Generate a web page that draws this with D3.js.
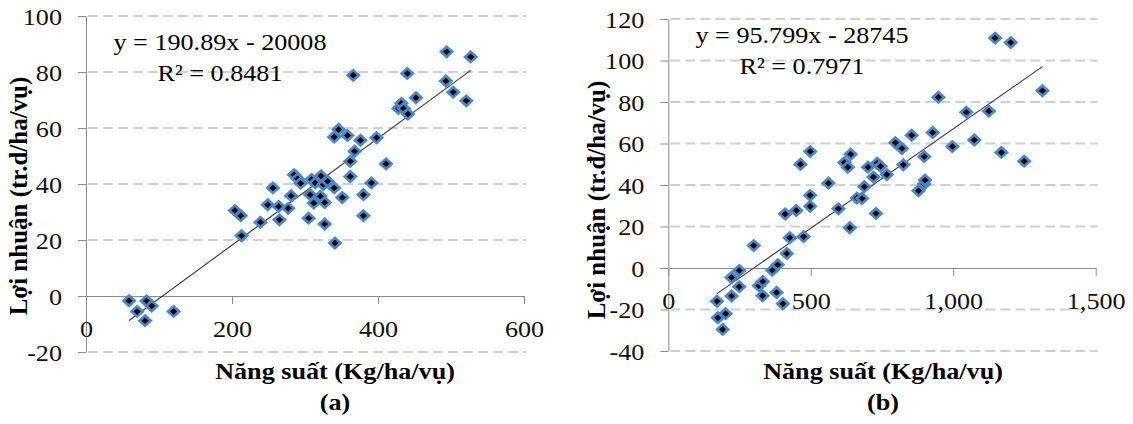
<!DOCTYPE html>
<html>
<head>
<meta charset="utf-8">
<script src="https://cdn.jsdelivr.net/npm/d3@7"></script>
<style>
  html, body { margin: 0; padding: 0; background: #fff; }
  svg { display: block; }
  text { font-family: "Liberation Serif", "Times New Roman", serif; }
</style>
</head>
<body>
<svg id="chart" width="1133" height="424"></svg>
<script>
// ---- data: (a) yield vs. profit ----
const yieldA = [59, 70, 81, 83, 90, 120, 204, 212, 213, 239, 249, 256, 264, 265, 277, 281, 285, 290, 294,
  305, 307, 309, 312, 314, 321, 322, 325, 327, 327, 331, 340, 341, 340, 346, 351, 358, 362, 362, 368, 376,
  366, 380, 380, 391, 398, 411, 428, 432, 435, 441, 440, 452, 494, 493, 503, 521, 527];
const profitA = [-1.7, -5.5, -8.8, -1.8, -3.6, -5.5, 30.5, 28.7, 21.5, 26.3, 32.6, 38.6, 32.0, 27.2, 31.3, 35.8, 43.3, 41.9, 40.3,
  27.8, 36.2, 41.6, 33.2, 40.4, 35.6, 42.9, 39.8, 33.4, 25.7, 41.0, 38.6, 18.9, 56.8, 59.5, 35.2, 57.3, 42.7, 48.1, 51.7, 55.6,
  78.8, 36.2, 28.7, 40.4, 56.5, 47.2, 67.0, 68.8, 67.0, 65.0, 79.5, 70.8, 87.2, 76.8, 72.8, 69.7, 85.4];
const trendA = { slope: 190.89, intercept: -20008, r2: "0.8481" };
const xTicksA = [0, 200, 400, 600];
const yTicksA = [-20, 0, 20, 40, 60, 80, 100];

// ---- data: (b) yield vs. profit ----
const yieldB = [171, 174, 191, 201, 222, 222, 249, 249, 300, 318, 332, 331, 365, 384, 380, 402, 416, 426, 410, 449,
  464, 475, 498, 498, 498, 562, 597, 618, 630, 640, 637, 662, 680, 688, 701, 720, 733, 729, 745, 767,
  797, 820, 825, 854, 878, 898, 901, 898, 928, 948, 997, 1046, 1074, 1125, 1147, 1169, 1202, 1249, 1313];
const profitB = [-16.0, -24.0, -29.6, -22.0, -4.6, -13.5, -1.2, -9.0, 10.8, -8.5, -6.5, -13.4, -1.1, 1.6, -11.8, -17.2, 7.0, 14.6, 26.0, 27.7,
  50.0, 15.1, 56.1, 35.0, 29.7, 40.9, 28.5, 50.8, 48.6, 54.8, 19.4, 33.7, 33.5, 39.2, 48.6, 43.8, 50.5, 26.3, 49.0, 45.0,
  60.4, 57.6, 49.7, 64.0, 37.2, 40.5, 42.3, 53.7, 65.3, 82.3, 58.5, 75.1, 61.7, 75.6, 110.8, 55.7, 108.7, 51.5, 85.4];
const trendB = { slope: 95.799, intercept: -28745, r2: "0.7971" };
const xTicksB = [0, 500, 1000, 1500];
const yTicksB = [-40, -20, 0, 20, 40, 60, 80, 100, 120];

const xTitle = "Năng suất (Kg/ha/vụ)";
const yTitleA = "Lợi nhuận (tr.d/ha/vụ)";
const yTitleB = "Lợi nhuận (tr.đ/ha/vụ)";

const svg = d3.select("#chart");
const STRETCH = 1.09;          // horizontal widening of the lettering
// thousands separator, plain hyphen for negatives
const fmt = d3.formatLocale({ decimal: ".", thousands: ",", grouping: [3], currency: ["", ""], minus: "-" }).format(",");

function stretchedText(g, x, y, str, opts) {
  return g.append("text")
    .attr("transform", `translate(${x},${y}) scale(${STRETCH},1)`)
    .attr("text-anchor", opts.anchor || "middle")
    .attr("font-size", opts.size)
    .attr("font-weight", opts.weight || "normal")
    .attr("fill", opts.fill || "#000")
    .text(str);
}

function panel(cfg) {
  const g = svg.append("g");
  const x = d3.scaleLinear().domain(cfg.xDomain).range(cfg.xRange);
  const y = d3.scaleLinear().domain(cfg.yDomain).range(cfg.yRange);
  const x0 = x(0), y0 = y(0);

  // dashed horizontal gridlines
  g.append("g").selectAll("line")
    .data(cfg.yTicks.filter(v => v !== 0))
    .join("line")
    .attr("x1", x0 + 2).attr("x2", cfg.xRange[1] + 2)
    .attr("y1", d => y(d)).attr("y2", d => y(d))
    .attr("stroke", "#d0d0d0").attr("stroke-width", 2)
    .attr("stroke-dasharray", "10,5");

  // vertical axis
  const yAxis = g.append("g")
    .attr("transform", `translate(${x0},0)`)
    .call(d3.axisLeft(y).tickValues(cfg.yTicks).tickSize(8).tickSizeOuter(0).tickPadding(16));
  yAxis.select(".domain").attr("stroke", "#8c8c8c");
  yAxis.selectAll(".tick line").attr("stroke", "#8c8c8c");
  yAxis.selectAll(".tick text").remove();
  yAxis.selectAll(".tick").each(function (d) {
    stretchedText(d3.select(this), -24, 8, fmt(d), { anchor: "end", size: 24, fill: "#111" });
  });

  // horizontal axis through y = 0
  const xAxis = g.append("g")
    .attr("transform", `translate(0,${y0})`)
    .call(d3.axisBottom(x).tickValues(cfg.xTicks).tickSize(8).tickSizeOuter(0));
  xAxis.select(".domain").attr("stroke", "#8c8c8c");
  xAxis.selectAll(".tick line").attr("stroke", "#8c8c8c");
  xAxis.selectAll(".tick text").remove();
  xAxis.selectAll(".tick").each(function (d) {
    stretchedText(d3.select(this), 0, 40.5, fmt(d), { size: 24, fill: "#111" });
  });

  // linear trendline (equation in thousand đồng, axis in million)
  const xs = d3.extent(cfg.xs);
  const fy = v => (cfg.trend.slope * v + cfg.trend.intercept) / 1000;
  g.append("line")
    .attr("x1", x(xs[0])).attr("y1", y(fy(xs[0])))
    .attr("x2", x(xs[1])).attr("y2", y(fy(xs[1])))
    .attr("stroke", "#3a3a3a").attr("stroke-width", 1.1);

  // diamond markers
  const pts = cfg.xs.map((v, i) => [v, cfg.ys[i]]);
  const diamond = d3.symbol(d3.symbolSquare, 52)();
  g.append("g").selectAll("path")
    .data(pts)
    .join("path")
    .attr("d", diamond)
    .attr("transform", d => `translate(${x(d[0])},${y(d[1])}) scale(${STRETCH},1) rotate(45)`)
    .attr("fill", "#000")
    .attr("stroke", "#4a86c8").attr("stroke-width", 2.6)
    .attr("stroke-linejoin", "miter");

  // trendline equation
  const intTxt = cfg.trend.intercept < 0 ? ` - ${Math.abs(cfg.trend.intercept)}` : ` + ${cfg.trend.intercept}`;
  stretchedText(g, cfg.eqX, cfg.eqY, `y = ${cfg.trend.slope}x${intTxt}`, { size: 24 });
  stretchedText(g, cfg.eqX, cfg.eqY + 30.5, `R² = ${cfg.trend.r2}`, { size: 24 });

  // axis titles
  stretchedText(g, cfg.xTitleX, 379, xTitle, { size: 24, weight: "bold" });
  stretchedText(g, cfg.xTitleX, 410, cfg.tag, { size: 24, weight: "bold" });
  g.append("text")
    .attr("transform", `translate(${cfg.yTitleX},${cfg.yTitleY}) rotate(-90)`)
    .attr("text-anchor", "middle")
    .attr("font-size", 25).attr("font-weight", "bold")
    .text(cfg.yTitle);
}

panel({
  xs: yieldA, ys: profitA, trend: trendA,
  xDomain: [0, 600], yDomain: [-20, 100],
  xRange: [86, 524], yRange: [352, 16],
  xTicks: xTicksA, yTicks: yTicksA,
  eqX: 220, eqY: 50,
  xTitleX: 335, tag: "(a)",
  yTitle: yTitleA, yTitleX: 27, yTitleY: 196
});

panel({
  xs: yieldB, ys: profitB, trend: trendB,
  xDomain: [0, 1500], yDomain: [-40, 120],
  xRange: [668.3, 1095.7], yRange: [351, 19],
  xTicks: xTicksB, yTicks: yTicksB,
  eqX: 802, eqY: 43,
  xTitleX: 883, tag: "(b)",
  yTitle: yTitleB, yTitleX: 605, yTitleY: 200
});
</script>
</body>
</html>
